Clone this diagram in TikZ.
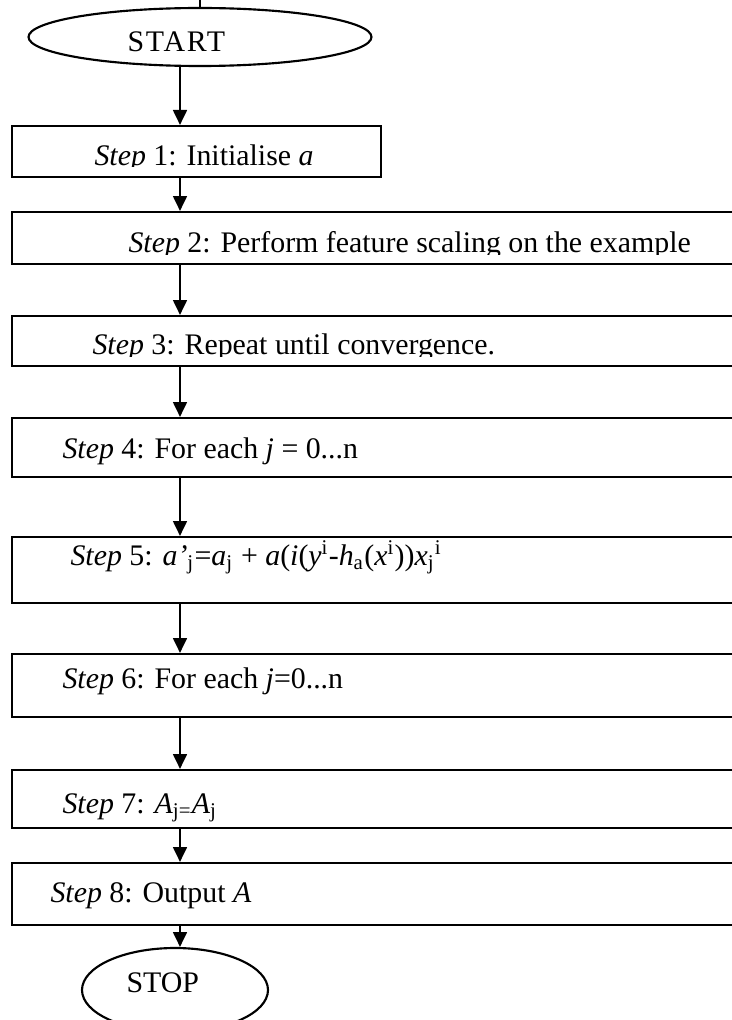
\documentclass[tikz,border=0pt]{standalone}
\usepackage{fontspec}
\setmainfont{Liberation Serif}
\usetikzlibrary{arrows.meta,shapes.geometric,fit}
\newlength\pxu
\setlength\pxu{0.375pt}
\begin{document}
\begin{tikzpicture}[x=\pxu,y=-\pxu,
  stepbox/.style={draw,line width=0.8pt,inner sep=0pt,fit={#1}},
  terminal/.style={ellipse,draw,line width=0.8pt,inner sep=0pt},
  steptext/.style={anchor=base west,inner sep=0pt,font=\fontsize{11.2}{13}\selectfont},
  flow/.style={line width=0.8pt,-{Triangle[length=5.6pt,width=5.2pt]}}]
\useasboundingbox (0,0) rectangle (732,1020);
\clip (0,0) rectangle (732,1020);

% column of the connectors
\coordinate (ax) at (180,0);
\coordinate (tick) at (200,0);

% terminals
\node[terminal,minimum width=343\pxu,minimum height=58\pxu] (start) at (200,37) {};
\node[steptext,font=\fontsize{11.2}{13}\selectfont\addfontfeature{LetterSpace=6}] (starttxt) at (127,52) {START};
\draw[line width=0.8pt] (tick) -- (start.north);

\node[terminal,minimum width=186\pxu,minimum height=84\pxu] (stop) at (175,990) {};
\node[steptext] (stoptxt) at (126,992) {STOP};

% step boxes
\node[stepbox={(12,126) (381,177)}] (s1) {};
\node[stepbox={(12,212) (745,264)}] (s2) {};
\node[stepbox={(12,316) (745,366)}] (s3) {};
\node[stepbox={(12,418) (745,477)}] (s4) {};
\node[stepbox={(12,537) (745,603)}] (s5) {};
\node[stepbox={(12,654) (745,717)}] (s6) {};
\node[stepbox={(12,770) (745,828)}] (s7) {};
\node[stepbox={(12,863) (745,925)}] (s8) {};

% labels (the first three are cut off by their boxes)
\begin{scope}
  \clip (12,126) rectangle (381,167);
  \node[steptext] (t1) at (94,165) {\textit{Step} 1: Initialise \textit{a}};
\end{scope}
\begin{scope}
  \clip (12,212) rectangle (745,254);
  \node[steptext] (t2) at (128,252) {\textit{Step} 2: Perform feature scaling on the example};
\end{scope}
\begin{scope}
  \clip (12,316) rectangle (745,356);
  \node[steptext] (t3) at (92,354) {\textit{Step} 3: Repeat until convergence.};
\end{scope}
\node[steptext] (t4) at (62,458) {\textit{Step} 4: For each \textit{j} = 0...n};
\node[steptext] (t5) at (70,565) {\textit{Step} 5: \textit{a'}\textsubscript{j}=\textit{a}\textsubscript{j} + \textit{a}(\textit{i}(\textit{y}\textsuperscript{i}-\textit{h}\textsubscript{a}(\textit{x}\textsuperscript{i}))\textit{x}\textsubscript{j}\textsuperscript{i}};
\node[steptext] (t6) at (62,688) {\textit{Step} 6: For each \textit{j}=0...n};
\node[steptext] (t7) at (62,813) {\textit{Step} 7: \textit{A}\textsubscript{j=}\textit{A}\textsubscript{j}};
\node[steptext] (t8) at (50,902) {\textit{Step} 8: Output \textit{A}};

% connectors
\draw[flow] (start.south -| ax) -- (s1.north -| ax);
\draw[flow] (s1.south -| ax) -- (s2.north -| ax);
\draw[flow] (s2.south -| ax) -- (s3.north -| ax);
\draw[flow] (s3.south -| ax) -- (s4.north -| ax);
\draw[flow] (s4.south -| ax) -- (s5.north -| ax);
\draw[flow] (s5.south -| ax) -- (s6.north -| ax);
\draw[flow] (s6.south -| ax) -- (s7.north -| ax);
\draw[flow] (s7.south -| ax) -- (s8.north -| ax);
\draw[flow] (s8.south -| ax) -- (stop.north -| ax);
\end{tikzpicture}
\end{document}
